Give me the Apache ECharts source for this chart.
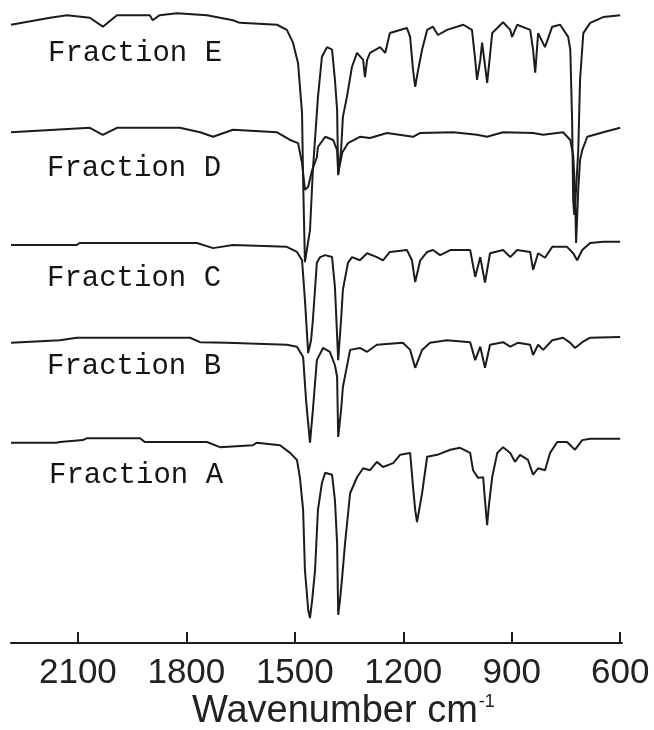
<!DOCTYPE html>
<html>
<head>
<meta charset="utf-8">
<style>
  html, body { margin: 0; padding: 0; background: #ffffff; }
  #chart { width: 654px; height: 730px; }
</style>
<script src="https://cdn.jsdelivr.net/npm/echarts@6/dist/echarts.min.js"></script>
</head>
<body>
<div id="chart"></div>
<script>
// IR spectra of five fractions, stacked with vertical offsets (arbitrary transmittance units).
// Each point: [wavenumber (cm-1), offset transmittance]

const fractionNames = ['Fraction A', 'Fraction B', 'Fraction C', 'Fraction D', 'Fraction E'];
const tickLabels = [2100, 1800, 1500, 1200, 900, 600];

const fractionA = [
  [2285, 31.3], [2160, 31.3], [2150, 31.4], [2086, 31.7], [2075, 32.0], [1928, 32.0],
  [1915, 31.4], [1743, 31.4], [1707, 30.6], [1616, 30.9], [1605, 31.3], [1541, 30.9],
  [1513, 29.7], [1494, 28.6], [1486, 25.9], [1477, 20.8], [1472, 11.4], [1463, 5.2],
  [1458, 3.9], [1452, 6.7], [1444, 11.4], [1436, 20.8], [1425, 25.0], [1416, 26.6],
  [1397, 26.3], [1389, 22.3], [1383, 15.6], [1380, 4.4], [1375, 6.7], [1369, 10.3],
  [1361, 15.6], [1347, 23.4], [1328, 25.9], [1311, 27.3], [1292, 27.0], [1273, 28.3],
  [1256, 27.5], [1228, 28.1], [1209, 29.4], [1181, 29.7], [1173, 24.4], [1167, 20.8],
  [1162, 18.9], [1156, 20.8], [1148, 23.4], [1134, 29.1], [1106, 29.4], [1070, 30.2],
  [1043, 30.5], [1015, 29.7], [1007, 27.0], [993, 25.8], [979, 25.9], [974, 22.3],
  [968, 18.4], [963, 21.6], [954, 25.9], [940, 29.7], [924, 30.6], [904, 29.7],
  [891, 28.3], [877, 29.4], [855, 28.6], [841, 26.3], [827, 27.3], [808, 27.0],
  [794, 29.7], [774, 31.4], [747, 31.4], [725, 30.2], [705, 31.7], [683, 31.9], [600, 31.9]
];

const fractionB = [
  [2285, 46.9], [2150, 47.3], [2103, 47.7], [1790, 47.7], [1762, 47.0], [1688, 46.9],
  [1522, 46.6], [1494, 46.3], [1477, 44.7], [1469, 38.0], [1458, 31.3], [1450, 36.4],
  [1439, 44.2], [1422, 46.1], [1403, 45.5], [1389, 43.4], [1383, 41.6], [1380, 32.2],
  [1372, 36.4], [1367, 40.0], [1347, 45.8], [1320, 46.1], [1300, 45.5], [1273, 46.6],
  [1201, 46.9], [1181, 45.8], [1167, 43.0], [1148, 45.8], [1126, 46.9], [1079, 47.3],
  [1015, 47.0], [1001, 44.2], [987, 46.3], [974, 43.0], [960, 46.6], [924, 47.0],
  [904, 46.3], [883, 46.9], [849, 46.6], [841, 45.0], [827, 46.6], [813, 45.8],
  [788, 47.3], [758, 47.7], [738, 46.9], [725, 46.1], [705, 47.0], [683, 47.7], [600, 47.8]
];

const fractionC = [
  [2285, 62.2], [2103, 62.2], [2095, 62.5], [1771, 62.5], [1726, 61.7], [1671, 62.2],
  [1522, 61.9], [1494, 61.1], [1480, 59.8], [1472, 53.6], [1463, 45.3], [1455, 47.3],
  [1450, 50.5], [1439, 59.4], [1430, 60.3], [1416, 60.6], [1397, 60.3], [1389, 55.6],
  [1380, 44.2], [1372, 50.5], [1367, 55.2], [1353, 59.4], [1342, 60.3], [1320, 59.8],
  [1300, 60.9], [1273, 60.3], [1256, 59.8], [1237, 61.1], [1190, 61.4], [1176, 59.8],
  [1167, 56.4], [1153, 59.8], [1134, 61.1], [1118, 61.4], [1098, 60.6], [1070, 61.4],
  [1015, 61.4], [1001, 57.2], [987, 60.3], [974, 56.3], [960, 60.9], [924, 61.4],
  [904, 60.3], [885, 61.4], [849, 61.1], [841, 58.3], [827, 60.9], [808, 60.2],
  [788, 61.9], [747, 61.9], [730, 60.9], [719, 59.8], [705, 61.4], [683, 62.5],
  [647, 62.7], [600, 62.7]
];

const fractionD = [
  [2285, 79.8], [2067, 80.5], [2031, 79.4], [1992, 80.5], [1928, 80.5], [1818, 80.5],
  [1762, 79.8], [1726, 79.1], [1671, 80.2], [1549, 79.8], [1513, 78.6], [1491, 78.1],
  [1480, 75.0], [1472, 70.8], [1463, 71.3], [1452, 73.9], [1439, 75.9], [1436, 77.5],
  [1416, 79.1], [1394, 78.6], [1383, 77.0], [1380, 73.4], [1369, 76.6], [1353, 78.1],
  [1320, 79.1], [1292, 78.9], [1245, 79.7], [1173, 79.1], [1153, 79.7], [1062, 79.8],
  [996, 79.4], [968, 79.1], [924, 79.8], [841, 79.7], [813, 79.4], [758, 79.8],
  [738, 78.6], [730, 76.2], [725, 70.8], [722, 62.5], [716, 70.8], [711, 75.5],
  [705, 77.0], [691, 79.1], [647, 79.8], [600, 80.5]
];

const fractionE = [
  [2285, 96.6], [2177, 97.7], [2130, 98.1], [2067, 97.7], [2031, 96.3], [1992, 98.1],
  [1901, 98.1], [1893, 97.3], [1874, 98.1], [1826, 98.4], [1743, 98.1], [1671, 97.3],
  [1652, 96.9], [1549, 96.6], [1522, 95.8], [1505, 93.8], [1491, 90.6], [1480, 82.8],
  [1477, 72.3], [1472, 59.5], [1458, 64.5], [1450, 73.9], [1436, 85.3], [1425, 91.6],
  [1411, 93.1], [1397, 92.7], [1389, 88.0], [1383, 83.3], [1380, 73.1], [1372, 77.0],
  [1367, 82.2], [1356, 85.3], [1342, 90.0], [1328, 92.2], [1311, 91.1], [1306, 88.4],
  [1300, 91.1], [1292, 92.2], [1264, 93.1], [1250, 92.2], [1237, 95.3], [1190, 96.1],
  [1181, 94.7], [1173, 89.5], [1167, 86.9], [1159, 89.5], [1148, 92.7], [1134, 95.8],
  [1118, 96.3], [1104, 95.0], [1079, 95.8], [1034, 96.6], [1010, 95.8], [1001, 91.1],
  [996, 88.0], [987, 91.1], [982, 93.8], [974, 90.3], [968, 87.5], [960, 91.9],
  [954, 95.3], [924, 97.0], [904, 95.8], [899, 94.7], [885, 96.6], [849, 95.8],
  [841, 92.7], [835, 89.1], [827, 95.3], [808, 93.1], [788, 96.3], [766, 96.6],
  [744, 94.7], [738, 92.7], [733, 81.7], [730, 69.2], [727, 66.9], [722, 70.8],
  [716, 77.0], [711, 88.0], [702, 95.3], [683, 96.9], [647, 97.8], [600, 98.1]
];

const spectra = [fractionA, fractionB, fractionC, fractionD, fractionE];
// label anchor (left edge, vertical centre) for each fraction name
const labelSpots = [[49, 477], [47, 368], [47, 280], [47, 170], [48, 55]];

const chart = echarts.init(document.getElementById('chart'), null, { renderer: 'canvas' });

const lineColor = '#1c1c1c';

chart.setOption({
  animation: false,
  backgroundColor: '#ffffff',
  grid: { left: 11, right: 32, top: 3, bottom: 87, containLabel: false },
  xAxis: {
    type: 'value',
    inverse: true,
    min: 595,
    max: 2285,
    splitLine: { show: false },
    axisLine: { show: true, lineStyle: { color: lineColor, width: 2 } },
    axisTick: {
      show: true, inside: true, length: 11,
      customValues: tickLabels,
      lineStyle: { color: lineColor, width: 2 }
    },
    axisLabel: {
      show: true,
      customValues: tickLabels,
      formatter: (v) => String(v),
      margin: 13,
      color: '#222',
      fontFamily: 'Liberation Sans, Arial, sans-serif',
      fontSize: 35
    }
  },
  yAxis: {
    type: 'value',
    min: 0,
    max: 100,
    show: false
  },
  series: spectra.map((data, i) => ({
    name: fractionNames[i],
    type: 'line',
    data: data,
    showSymbol: false,
    smooth: false,
    lineStyle: { color: lineColor, width: 2 },
    z: 2
  })),
  graphic: [
    ...fractionNames.map((name, i) => ({
      type: 'text',
      left: labelSpots[i][0],
      top: labelSpots[i][1] - 16,
      style: {
        text: name,
        fill: '#151515',
        font: '29px "Liberation Mono", "Courier New", monospace'
      }
    })),
    {
      type: 'text',
      left: 192,
      top: 693,
      style: {
        text: '{main|Wavenumber cm}{sup|-1}',
        rich: {
          main: { fontSize: 38, fontFamily: 'Liberation Sans, Arial, sans-serif', fill: '#222', color: '#222' },
          sup: { fontSize: 18, fontFamily: 'Liberation Sans, Arial, sans-serif', color: '#222', fill: '#222', verticalAlign: 'top', padding: [0, 0, 18, 1] }
        }
      }
    }
  ]
});
</script>
</body>
</html>
